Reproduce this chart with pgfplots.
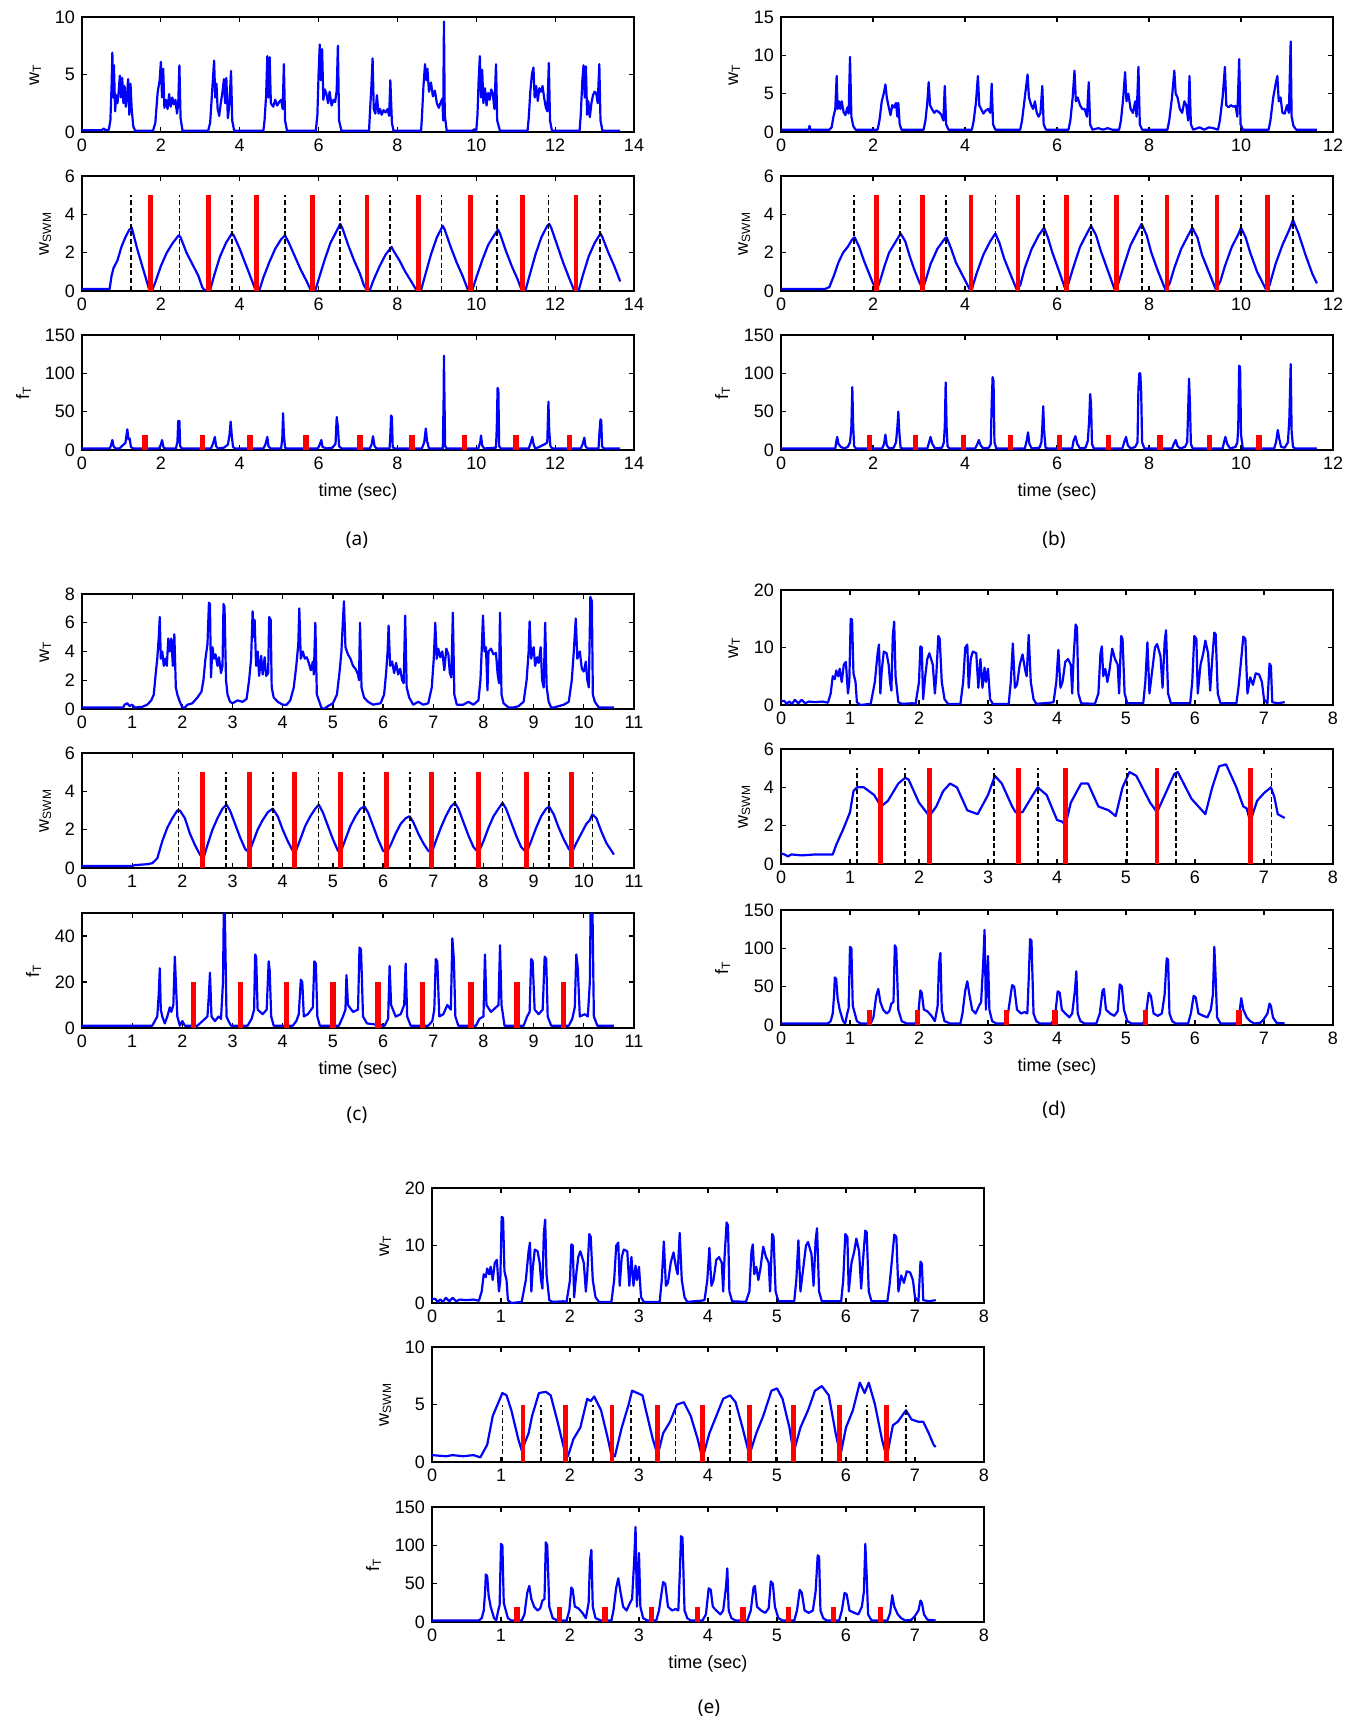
\documentclass[border=0pt]{standalone}
\usepackage{fontspec}
\setmainfont{Liberation Sans}
\newfontfamily\lblfont{Noto Sans}
\usepackage{pgfplots}
\pgfplotsset{compat=1.18}
\usepackage{pgfplotstable}

\pgfplotsset{
 mat/.style={scale only axis, width=276pt, height=57.5pt, xmin=0, ymin=0,
   tick align=inside, major tick length=2.5pt,
   axis line style={black, line width=0.6pt},
   every tick/.style={black, line width=0.6pt},
   tick label style={font=\fontsize{9}{10}\selectfont, black},
   label style={font=\fontsize{9}{10}\selectfont},
   /pgf/number format/assume math mode=true, scaled ticks=false, clip=true},
 bl/.style={blue, line width=1.1pt, line join=round, mark=none},
 rb/.style={red, line width=2.4pt, ycomb, mark=none},
 kd/.style={black, line width=0.85pt, dash pattern=on 2.5pt off 1.4pt, ycomb, mark=none},
}

\pgfplotstableread[row sep=\\]{x y\\
0 0.7\\ 0.05 0.7\\ 0.08 0.2\\ 0.12 0.6\\ 0.16 0.2\\ 0.2 0.9\\ 0.25 0.3\\ 0.3 0.9\\ 0.35 0.3\\ 0.4 0.6\\ 0.5 0.5\\ 0.6 0.6\\ 0.68 0.4\\
0.72 2.0\\ 0.75 5.0\\ 0.78 4.5\\ 0.8 6.0\\ 0.83 5.0\\ 0.85 6.3\\ 0.88 4.0\\ 0.91 7.0\\ 0.94 7.5\\ 0.97 2.0\\ 0.99 4.0\\ 1.01 15.0\\ 1.03 14.8\\ 1.05 5.5\\ 1.08 4.0\\ 1.1 0.5\\ 1.15 0.0\\
1.3 0.2\\ 1.36 4.0\\ 1.4 9.0\\ 1.42 10.5\\ 1.44 2.0\\ 1.46 6.0\\ 1.49 9.3\\ 1.53 9.0\\ 1.56 7.0\\ 1.58 4.0\\ 1.6 2.5\\ 1.62 12.0\\ 1.64 14.5\\ 1.66 5.0\\ 1.7 0.5\\ 1.75 0.2\\
1.9 0.3\\ 1.95 0.2\\ 2.0 4.0\\ 2.02 10.2\\ 2.04 10.0\\ 2.06 1.0\\ 2.09 5.0\\ 2.12 8.0\\ 2.15 9.0\\ 2.2 7.0\\ 2.23 2.0\\ 2.25 5.0\\ 2.28 12.0\\ 2.3 11.5\\ 2.33 4.0\\ 2.37 1.0\\ 2.42 0.2\\
2.6 0.2\\ 2.64 4.0\\ 2.67 10.0\\ 2.7 10.5\\ 2.72 3.0\\ 2.75 8.0\\ 2.78 9.3\\ 2.83 9.0\\ 2.86 3.0\\ 2.89 8.0\\ 2.92 3.0\\ 2.95 6.5\\ 2.97 4.0\\ 3.0 6.3\\ 3.03 1.0\\ 3.07 0.2\\
3.3 0.2\\ 3.33 4.0\\ 3.36 10.7\\ 3.39 3.0\\ 3.42 3.5\\ 3.46 7.0\\ 3.5 8.8\\ 3.54 6.0\\ 3.56 5.0\\ 3.59 12.2\\ 3.62 4.0\\ 3.66 1.0\\ 3.7 0.2\\
3.9 0.4\\ 3.95 0.5\\ 3.99 4.0\\ 4.02 9.6\\ 4.05 3.0\\ 4.08 4.0\\ 4.12 7.5\\ 4.16 8.0\\ 4.2 7.0\\ 4.22 2.0\\ 4.24 8.0\\ 4.27 14.0\\ 4.29 13.5\\ 4.31 2.0\\ 4.35 0.3\\
4.55 0.2\\ 4.6 2.0\\ 4.63 9.0\\ 4.65 10.2\\ 4.67 5.0\\ 4.7 6.3\\ 4.73 4.0\\ 4.76 6.0\\ 4.8 9.8\\ 4.84 8.0\\ 4.88 7.0\\ 4.9 2.0\\ 4.93 12.0\\ 4.95 11.5\\ 4.98 2.0\\ 5.02 0.3\\
5.25 0.3\\ 5.28 4.0\\ 5.31 10.9\\ 5.34 2.0\\ 5.37 5.0\\ 5.42 10.0\\ 5.45 10.6\\ 5.5 8.5\\ 5.53 3.0\\ 5.56 11.0\\ 5.58 13.0\\ 5.61 2.0\\ 5.65 0.3\\
5.93 0.3\\ 5.96 4.0\\ 5.99 12.0\\ 6.02 11.5\\ 6.04 2.0\\ 6.08 7.0\\ 6.12 9.0\\ 6.15 11.2\\ 6.19 9.0\\ 6.22 2.5\\ 6.25 8.0\\ 6.28 12.6\\ 6.3 12.3\\ 6.33 2.0\\ 6.37 0.3\\
6.6 0.3\\ 6.63 3.0\\ 6.67 8.0\\ 6.7 11.9\\ 6.73 11.5\\ 6.76 2.0\\ 6.8 4.8\\ 6.84 3.5\\ 6.88 5.5\\ 6.93 5.3\\ 6.97 4.0\\ 7.0 1.0\\ 7.05 0.3\\ 7.08 7.2\\ 7.1 6.8\\ 7.12 0.5\\ 7.2 0.3\\ 7.3 0.5\\
}\dtop

\pgfplotstableread[row sep=\\]{x y\\
0 2\\ 0.68 2\\ 0.72 5\\ 0.75 15\\ 0.77 40\\ 0.78 62\\ 0.8 60\\ 0.82 35\\ 0.85 20\\ 0.9 5\\ 0.93 2\\ 0.96 15\\ 0.98 22\\ 1.0 102\\ 1.02 100\\ 1.04 25\\ 1.07 15\\ 1.1 5\\ 1.15 2\\
1.3 2\\ 1.34 10\\ 1.38 38\\ 1.41 47\\ 1.44 30\\ 1.48 20\\ 1.53 15\\ 1.57 18\\ 1.6 28\\ 1.63 30\\ 1.65 104\\ 1.67 100\\ 1.7 20\\ 1.75 5\\ 1.82 2\\
1.95 2\\ 1.99 15\\ 2.02 45\\ 2.04 42\\ 2.07 20\\ 2.12 18\\ 2.18 12\\ 2.23 5\\ 2.27 25\\ 2.29 80\\ 2.31 94\\ 2.33 20\\ 2.37 5\\ 2.45 2\\
2.6 2\\ 2.63 15\\ 2.67 45\\ 2.7 57\\ 2.73 40\\ 2.77 20\\ 2.82 15\\ 2.87 25\\ 2.9 30\\ 2.93 80\\ 2.95 124\\ 2.97 20\\ 3.0 90\\ 3.02 20\\ 3.06 5\\ 3.12 2\\
3.25 2\\ 3.29 15\\ 3.33 40\\ 3.35 52\\ 3.38 50\\ 3.42 20\\ 3.48 15\\ 3.53 17\\ 3.57 15\\ 3.59 60\\ 3.61 112\\ 3.63 110\\ 3.66 15\\ 3.7 5\\ 3.75 2\\
3.92 2\\ 3.97 10\\ 4.01 44\\ 4.04 42\\ 4.07 20\\ 4.12 15\\ 4.18 10\\ 4.22 15\\ 4.26 45\\ 4.28 70\\ 4.3 15\\ 4.34 5\\ 4.4 2\\
4.57 2\\ 4.62 15\\ 4.66 45\\ 4.68 47\\ 4.71 20\\ 4.77 15\\ 4.83 12\\ 4.88 18\\ 4.91 53\\ 4.94 50\\ 4.97 20\\ 5.02 5\\ 5.08 2\\
5.25 2\\ 5.29 15\\ 5.33 42\\ 5.36 38\\ 5.4 15\\ 5.46 12\\ 5.52 15\\ 5.56 40\\ 5.59 87\\ 5.61 85\\ 5.63 15\\ 5.67 5\\ 5.72 2\\
5.9 2\\ 5.94 15\\ 5.98 38\\ 6.01 36\\ 6.05 15\\ 6.12 12\\ 6.18 10\\ 6.23 20\\ 6.26 40\\ 6.28 102\\ 6.3 60\\ 6.32 10\\ 6.37 2\\
6.6 2\\ 6.64 12\\ 6.67 35\\ 6.7 20\\ 6.75 10\\ 6.8 5\\ 6.86 2\\ 6.95 3\\ 7.0 8\\ 7.05 15\\ 7.08 28\\ 7.1 25\\ 7.13 10\\ 7.18 3\\ 7.3 2\\
}\dbot

\begin{document}
\begin{tikzpicture}
\path[use as bounding box] (0,0) rectangle (676pt,-861pt);

% ================= (a) =================
\begin{axis}[mat, at={(41pt,-8.5pt)}, anchor=north west, xmax=14, ymax=10,
  xtick={0,2,...,14}, ytick={0,5,10}, ylabel={w\textsubscript{T}}]
\addplot[bl] coordinates {(0,0.15) (0.5,0.15) (0.55,0.3) (0.6,0.15) (0.68,0.2)
(0.72,1.0) (0.75,4) (0.77,6.9) (0.79,3) (0.81,5.8) (0.84,1.8) (0.87,3.2) (0.9,2.5) (0.93,3.5) (0.96,4.9) (0.99,3) (1.02,4.7) (1.05,2.5) (1.08,4.0) (1.11,2.2) (1.14,3.0) (1.17,4.6) (1.2,1.5) (1.23,4.2) (1.26,2.0) (1.3,0.5) (1.35,0.1)
(1.8,0.1) (1.86,0.8) (1.92,3.5) (1.97,4.5) (2.0,6.1) (2.03,3.0) (2.06,5.5) (2.09,2.1) (2.13,2.8) (2.17,2.0) (2.21,3.3) (2.25,2.2) (2.29,3.0) (2.33,2.4) (2.37,2.8) (2.41,1.6) (2.44,2.4) (2.47,5.8) (2.5,1.2) (2.55,0.1)
(3.2,0.1) (3.25,0.8) (3.3,3.5) (3.35,6.2) (3.38,3.0) (3.41,4.2) (3.44,2.0) (3.48,1.4) (3.52,2.5) (3.56,3.4) (3.6,4.6) (3.63,2.5) (3.66,4.7) (3.7,1.2) (3.74,2.5) (3.78,5.3) (3.81,1.0) (3.86,0.1)
(4.6,0.1) (4.63,1.0) (4.67,3.2) (4.7,6.6) (4.73,3.0) (4.76,6.5) (4.79,2.5) (4.85,2.2) (4.9,2.8) (4.95,2.3) (5.0,2.6) (5.05,2.8) (5.09,2.0) (5.12,5.9) (5.15,1.0) (5.2,0.1)
(5.93,0.1) (5.97,1.5) (6.0,5.0) (6.03,7.6) (6.06,4.5) (6.09,7.2) (6.12,2.8) (6.16,3.7) (6.2,3.3) (6.24,2.5) (6.28,3.5) (6.33,2.3) (6.38,2.8) (6.42,2.6) (6.46,3.6) (6.49,7.5) (6.52,1.0) (6.58,0.1)
(7.28,0.1) (7.3,1.5) (7.34,4.0) (7.37,6.4) (7.4,2.0) (7.44,1.6) (7.48,3.2) (7.52,1.6) (7.56,2.0) (7.6,1.5) (7.65,1.9) (7.7,1.7) (7.75,2.0) (7.79,1.4) (7.82,4.5) (7.86,0.8) (7.9,0.1)
(8.6,0.1) (8.62,1.2) (8.66,4.0) (8.7,5.9) (8.73,4.5) (8.76,5.5) (8.8,3.5) (8.85,4.3) (8.9,3.1) (8.95,3.6) (9.0,2.5) (9.05,2.1) (9.1,2.6) (9.14,2.9) (9.16,1.0) (9.18,9.6) (9.2,1.5) (9.25,0.1)
(9.9,0.1) (9.95,0.25) (10.0,0.1) (10.03,1.5) (10.06,4.5) (10.09,6.6) (10.12,3.0) (10.15,5.4) (10.18,2.5) (10.22,3.8) (10.26,2.3) (10.3,3.4) (10.34,2.8) (10.38,3.7) (10.42,3.3) (10.46,2.0) (10.5,5.9) (10.53,1.0) (10.6,0.1)
(11.3,0.1) (11.33,1.2) (11.37,3.5) (11.41,5.0) (11.45,5.6) (11.48,3.0) (11.52,4.0) (11.56,2.7) (11.6,3.8) (11.64,3.5) (11.68,4.0) (11.72,3.0) (11.76,2.2) (11.8,1.8) (11.84,6.0) (11.87,1.0) (11.92,0.1)
(12.62,0.1) (12.65,1.5) (12.69,4.5) (12.72,5.8) (12.75,3.0) (12.78,5.7) (12.81,1.5) (12.84,2.7) (12.88,1.3) (12.92,2.5) (12.96,3.2) (13.0,3.5) (13.04,3.4) (13.08,2.5) (13.12,5.9) (13.15,1.0) (13.2,0.1) (13.65,0.1)};
\end{axis}

\begin{axis}[mat, at={(41pt,-88pt)}, anchor=north west, xmax=14, ymax=6,
  xtick={0,2,...,14}, ytick={0,2,4,6}, ylabel={w\textsubscript{SWM}}]
\addplot[bl] coordinates {(0,0.1) (0.7,0.1) (0.75,0.8) (0.8,1.2) (0.9,1.6) (1.0,2.3) (1.1,2.8) (1.2,3.2) (1.26,3.3) (1.3,3.0) (1.4,2.2) (1.5,1.5) (1.6,0.8) (1.7,0.1) (1.78,0.05) (1.85,0.4) (2.0,1.3) (2.15,2.0) (2.3,2.5) (2.45,2.9) (2.5,2.8) (2.65,2.0) (2.8,1.4) (2.95,0.8) (3.05,0.2) (3.1,0.05) (3.25,0.05) (3.35,0.8) (3.5,1.8) (3.65,2.5) (3.8,3.0) (3.85,2.9) (4.0,2.2) (4.15,1.4) (4.3,0.6) (4.4,0.05) (4.5,0.05) (4.6,0.7) (4.75,1.5) (4.9,2.2) (5.05,2.7) (5.15,2.9) (5.25,2.5) (5.4,1.8) (5.55,1.1) (5.7,0.5) (5.8,0.05) (5.92,0.05) (6.0,0.6) (6.15,1.6) (6.3,2.5) (6.45,3.1) (6.55,3.5) (6.6,3.3) (6.75,2.4) (6.9,1.6) (7.05,0.9) (7.15,0.3) (7.22,0.05) (7.3,0.05) (7.4,0.6) (7.55,1.3) (7.7,1.9) (7.85,2.3) (7.9,2.1) (8.05,1.6) (8.2,1.0) (8.35,0.5) (8.48,0.05) (8.6,0.05) (8.7,0.8) (8.85,1.9) (9.0,2.8) (9.15,3.4) (9.2,3.2) (9.35,2.3) (9.5,1.5) (9.65,0.8) (9.78,0.1) (9.9,0.05) (10.0,0.7) (10.15,1.6) (10.3,2.4) (10.45,2.9) (10.55,3.2) (10.6,3.0) (10.75,2.1) (10.9,1.3) (11.05,0.6) (11.15,0.05) (11.25,0.05) (11.35,0.8) (11.5,1.9) (11.65,2.8) (11.8,3.4) (11.85,3.5) (11.9,3.3) (12.05,2.4) (12.2,1.5) (12.35,0.7) (12.48,0.05) (12.6,0.05) (12.7,0.8) (12.85,1.8) (13.0,2.5) (13.15,3.0) (13.2,2.8) (13.35,2.0) (13.5,1.3) (13.65,0.5)};
\addplot[kd] coordinates {(1.24,5) (2.47,5) (3.81,5) (5.14,5) (6.54,5) (7.82,5) (9.12,5) (10.53,5) (11.83,5) (13.14,5)};
\addplot[rb] coordinates {(1.74,5) (3.20,5) (4.43,5) (5.84,5) (7.23,5) (8.54,5) (9.85,5) (11.17,5) (12.53,5)};
\end{axis}

\begin{axis}[mat, at={(41pt,-167.5pt)}, anchor=north west, xmax=14, ymax=150,
  xtick={0,2,...,14}, ytick={0,50,100,150}, ylabel={f\textsubscript{T}}, xlabel={time (sec)}]
\addplot[bl] coordinates {(0,2) (0.7,2) (0.73,5) (0.77,13) (0.8,5) (0.85,2) (0.95,2) (1.03,6) (1.1,9) (1.15,27) (1.18,14) (1.21,15) (1.24,4) (1.3,2) (1.95,2) (2.0,7) (2.03,13) (2.07,3) (2.12,2) (2.38,2) (2.42,10) (2.44,38) (2.47,38) (2.49,5) (2.53,2) (3.27,2) (3.32,8) (3.37,17) (3.4,5) (3.45,2) (3.6,3) (3.7,7) (3.74,19) (3.77,37) (3.8,18) (3.83,4) (3.88,2) (4.6,2) (4.65,7) (4.7,17) (4.73,5) (4.78,2) (5.05,2) (5.08,15) (5.1,48) (5.12,20) (5.15,3) (5.2,2) (5.98,2) (6.03,7) (6.07,13) (6.1,4) (6.2,2) (6.35,3) (6.43,8) (6.46,43) (6.49,30) (6.52,5) (6.58,2) (7.3,2) (7.35,8) (7.38,18) (7.42,5) (7.47,2) (7.8,2) (7.82,20) (7.84,45) (7.86,43) (7.88,4) (7.92,2) (8.62,2) (8.68,10) (8.72,28) (8.75,12) (8.8,2) (9.15,2) (9.17,60) (9.18,123) (9.19,80) (9.21,5) (9.25,2) (10.05,2) (10.1,10) (10.12,19) (10.15,6) (10.2,2) (10.5,3) (10.52,30) (10.54,81) (10.56,78) (10.58,5) (10.62,2) (11.33,2) (11.38,9) (11.42,17) (11.46,6) (11.5,2) (11.6,4) (11.75,8) (11.8,10) (11.83,63) (11.85,25) (11.88,5) (11.93,2) (12.65,2) (12.7,8) (12.74,16) (12.77,5) (12.82,2) (13.1,2) (13.12,20) (13.15,40) (13.17,38) (13.19,5) (13.23,2) (13.65,2)};
\addplot[rb, line width=2.7pt] coordinates {(1.60,20) (3.05,20) (4.26,20) (5.68,20) (7.05,20) (8.37,20) (9.70,20) (11.01,20) (12.37,20)};
\end{axis}

% ================= (b) =================
\begin{axis}[mat, at={(390.5pt,-8.5pt)}, anchor=north west, xmax=12, ymax=15,
  xtick={0,2,...,12}, ytick={0,5,10,15}, ylabel={w\textsubscript{T}}]
\addplot[bl] coordinates {(0,0.3) (0.6,0.3) (0.62,0.8) (0.64,0.3) (1.05,0.3) (1.1,0.6) (1.14,2.0) (1.18,3.0) (1.21,7.3) (1.23,3.0) (1.26,4.0) (1.29,3.0) (1.32,4.0) (1.36,2.6) (1.4,2.2) (1.44,3.2) (1.47,2.4) (1.5,9.8) (1.53,2.0) (1.57,0.8) (1.62,0.3)
(2.1,0.3) (2.14,1.5) (2.19,4.0) (2.24,5.2) (2.27,6.2) (2.3,4.5) (2.34,3.3) (2.38,2.2) (2.42,3.5) (2.46,3.2) (2.5,3.8) (2.53,2.0) (2.55,3.8) (2.58,1.0) (2.62,0.3)
(3.1,0.3) (3.14,1.5) (3.18,3.8) (3.21,6.5) (3.24,3.5) (3.28,3.0) (3.33,2.5) (3.38,2.8) (3.43,2.6) (3.48,2.3) (3.53,1.5) (3.56,6.0) (3.59,1.0) (3.64,0.3)
(4.15,0.3) (4.19,1.5) (4.24,4.0) (4.28,7.3) (4.31,3.5) (4.35,3.0) (4.4,2.4) (4.45,2.8) (4.5,3.0) (4.55,2.5) (4.58,6.3) (4.61,1.0) (4.66,0.3)
(5.2,0.3) (5.24,1.5) (5.29,4.0) (5.33,6.0) (5.36,7.5) (5.39,4.5) (5.44,3.5) (5.48,3.0) (5.52,4.0) (5.56,2.5) (5.6,2.0) (5.64,2.5) (5.68,6.0) (5.71,1.0) (5.76,0.3)
(6.25,0.3) (6.29,1.5) (6.34,4.5) (6.38,8.0) (6.41,4.0) (6.45,4.5) (6.5,3.5) (6.55,3.0) (6.6,3.0) (6.65,2.0) (6.69,6.5) (6.72,1.0) (6.77,0.3) (6.9,0.5) (7.0,0.3) (7.1,0.5) (7.2,0.3)
(7.35,0.3) (7.39,1.5) (7.44,4.5) (7.48,7.8) (7.51,4.0) (7.55,5.0) (7.6,3.0) (7.65,2.5) (7.7,4.0) (7.73,2.0) (7.77,8.5) (7.8,1.0) (7.85,0.3)
(8.4,0.3) (8.44,1.5) (8.5,4.5) (8.55,8.0) (8.58,5.0) (8.62,4.5) (8.67,3.0) (8.72,2.5) (8.77,4.0) (8.81,3.5) (8.85,1.5) (8.88,7.3) (8.91,1.0) (8.96,0.3) (9.1,0.6) (9.2,0.3) (9.3,0.6) (9.4,0.5)
(9.5,0.3) (9.54,1.5) (9.6,4.5) (9.65,8.5) (9.68,3.5) (9.73,3.2) (9.78,3.5) (9.83,3.3) (9.88,3.4) (9.92,2.0) (9.96,9.5) (9.99,1.0) (10.04,0.3)
(10.6,0.3) (10.64,1.5) (10.7,4.5) (10.76,6.5) (10.79,7.3) (10.82,4.0) (10.86,4.5) (10.9,2.5) (10.95,2.4) (11.0,3.5) (11.04,2.5) (11.08,11.8) (11.1,2.0) (11.14,0.8) (11.2,0.3) (11.65,0.3)};
\end{axis}

\begin{axis}[mat, at={(390.5pt,-88pt)}, anchor=north west, xmax=12, ymax=6,
  xtick={0,2,...,12}, ytick={0,2,4,6}, ylabel={w\textsubscript{SWM}}]
\addplot[bl] coordinates {(0,0.1) (0.95,0.1) (1.05,0.2) (1.15,0.8) (1.25,1.5) (1.35,2.0) (1.45,2.3) (1.55,2.7) (1.6,2.8) (1.7,2.3) (1.8,1.6) (1.9,1.0) (2.0,0.4) (2.08,0.05) (2.15,0.5) (2.25,1.3) (2.35,2.0) (2.5,2.6) (2.6,3.0) (2.7,2.6) (2.8,1.8) (2.9,1.1) (3.0,0.5) (3.08,0.1) (3.15,0.6) (3.25,1.4) (3.4,2.2) (3.55,2.7) (3.6,2.8) (3.7,2.2) (3.8,1.5) (3.95,0.8) (4.1,0.1) (4.15,0.1) (4.25,0.9) (4.4,1.9) (4.55,2.6) (4.66,3.0) (4.75,2.5) (4.85,1.7) (5.0,0.8) (5.12,0.1) (5.2,0.3) (5.3,1.2) (5.45,2.2) (5.6,2.9) (5.72,3.3) (5.8,2.8) (5.9,2.0) (6.05,1.0) (6.18,0.1) (6.25,0.4) (6.35,1.2) (6.5,2.3) (6.65,3.0) (6.74,3.4) (6.85,2.9) (6.95,2.1) (7.1,1.1) (7.25,0.1) (7.32,0.3) (7.45,1.3) (7.6,2.4) (7.75,3.1) (7.84,3.5) (7.95,2.9) (8.05,2.0) (8.2,1.0) (8.36,0.05) (8.45,0.4) (8.55,1.2) (8.7,2.2) (8.85,2.9) (8.94,3.3) (9.05,2.8) (9.15,1.9) (9.3,1.0) (9.45,0.1) (9.55,0.5) (9.65,1.3) (9.8,2.3) (9.95,3.0) (10.0,3.3) (10.1,2.8) (10.2,2.0) (10.35,1.0) (10.55,0.05) (10.62,0.3) (10.75,1.4) (10.9,2.4) (11.05,3.2) (11.13,3.7) (11.25,3.0) (11.4,1.9) (11.55,0.9) (11.65,0.4)};
\addplot[kd] coordinates {(1.59,5) (2.58,5) (3.58,5) (4.66,5) (5.72,5) (6.74,5) (7.84,5) (8.94,5) (10.0,5) (11.13,5)};
\addplot[rb] coordinates {(2.08,5) (3.08,5) (4.13,5) (5.15,5) (6.2,5) (7.29,5) (8.39,5) (9.48,5) (10.58,5)};
\end{axis}

\begin{axis}[mat, at={(390.5pt,-167.5pt)}, anchor=north west, xmax=12, ymax=150,
  xtick={0,2,...,12}, ytick={0,50,100,150}, ylabel={f\textsubscript{T}}, xlabel={time (sec)}]
\addplot[bl] coordinates {(0,2) (1.18,2) (1.2,10) (1.22,17) (1.25,8) (1.3,4) (1.38,2) (1.45,4) (1.5,10) (1.53,30) (1.55,82) (1.57,30) (1.59,5) (1.63,2) (2.2,2) (2.24,8) (2.27,20) (2.3,6) (2.35,2) (2.45,3) (2.5,10) (2.53,30) (2.55,50) (2.57,25) (2.6,3) (2.65,2) (3.18,2) (3.22,10) (3.25,17) (3.29,8) (3.35,2) (3.5,3) (3.54,10) (3.56,30) (3.58,88) (3.6,30) (3.62,5) (3.66,2) (4.22,2) (4.27,8) (4.3,13) (4.34,6) (4.4,2) (4.52,3) (4.56,8) (4.58,60) (4.6,95) (4.62,90) (4.64,10) (4.68,2) (5.3,2) (5.34,12) (5.37,23) (5.4,8) (5.45,2) (5.62,3) (5.66,10) (5.68,30) (5.7,57) (5.72,25) (5.75,3) (5.8,2) (6.33,2) (6.36,12) (6.4,18) (6.44,8) (6.5,2) (6.62,3) (6.67,12) (6.7,40) (6.72,73) (6.74,60) (6.76,8) (6.8,2) (7.42,2) (7.46,10) (7.5,17) (7.54,6) (7.6,2) (7.7,4) (7.75,10) (7.77,80) (7.79,100) (7.81,100) (7.83,75) (7.85,10) (7.9,2) (8.5,2) (8.54,8) (8.58,13) (8.62,5) (8.68,2) (8.78,4) (8.83,10) (8.85,50) (8.87,93) (8.89,60) (8.91,8) (8.95,2) (9.6,2) (9.63,10) (9.66,17) (9.7,8) (9.76,2) (9.88,4) (9.92,10) (9.94,30) (9.96,110) (9.98,108) (10.0,20) (10.04,2) (10.72,2) (10.76,10) (10.8,26) (10.83,15) (10.87,4) (10.95,3) (11.02,10) (11.05,40) (11.08,112) (11.1,25) (11.13,4) (11.18,2) (11.65,2)};
\addplot[rb, line width=2.7pt] coordinates {(1.93,20) (2.92,20) (3.97,20) (4.99,20) (6.05,20) (7.12,20) (8.24,20) (9.31,20) (10.39,20)};
\end{axis}

% ================= (c) =================
\begin{axis}[mat, at={(41pt,-297pt)}, anchor=north west, xmax=11, ymax=8,
  xtick={0,1,...,11}, ytick={0,2,4,6,8}, ylabel={w\textsubscript{T}}]
\addplot[bl] coordinates {(0,0.1) (0.82,0.1) (0.85,0.3) (0.9,0.4) (0.95,0.2) (1.0,0.3) (1.05,0.1) (1.2,0.15) (1.3,0.3) (1.38,0.6) (1.43,1.0) (1.47,2.5) (1.5,3.5) (1.53,5.0) (1.55,6.4) (1.57,3.5) (1.6,4.0) (1.63,3.0) (1.66,3.5) (1.69,3.0) (1.72,4.9) (1.75,4.0) (1.78,4.9) (1.81,3.0) (1.84,5.2) (1.87,1.5) (1.9,1.0) (1.95,0.5) (2.0,0.1) (2.05,0.1) (2.1,0.3) (2.2,0.4) (2.3,0.8) (2.38,1.2) (2.42,2.0) (2.46,3.5) (2.5,4.5) (2.53,7.4) (2.55,7.3) (2.57,2.2) (2.6,4.3) (2.63,3.5) (2.66,3.8) (2.7,3.0) (2.73,3.6) (2.77,2.5) (2.8,3.0) (2.82,7.3) (2.84,7.1) (2.87,2.0) (2.9,1.0) (2.95,0.5) (3.0,0.4) (3.1,0.6) (3.2,0.5) (3.28,0.7) (3.33,2.0) (3.37,3.5) (3.4,6.8) (3.42,5.0) (3.44,6.2) (3.47,3.0) (3.5,4.0) (3.53,2.3) (3.57,3.7) (3.6,2.4) (3.64,3.6) (3.67,2.3) (3.71,2.5) (3.73,6.4) (3.76,6.2) (3.78,1.5) (3.82,0.8) (3.9,0.5) (4.0,0.3) (4.08,0.3) (4.15,0.6) (4.22,1.5) (4.27,3.0) (4.31,4.5) (4.33,7.0) (4.36,3.5) (4.4,4.0) (4.44,3.5) (4.48,3.6) (4.52,3.2) (4.56,2.7) (4.6,3.3) (4.62,2.4) (4.65,6.0) (4.68,1.0) (4.72,0.6) (4.77,0.1) (4.82,0.0) (4.9,0.2) (5.0,0.4) (5.08,1.0) (5.13,2.5) (5.17,4.0) (5.2,6.2) (5.22,7.5) (5.25,4.3) (5.3,3.8) (5.35,3.5) (5.4,3.0) (5.45,2.8) (5.5,2.4) (5.52,2.0) (5.54,6.0) (5.57,1.5) (5.62,0.8) (5.7,0.5) (5.8,0.3) (5.95,0.4) (6.02,1.0) (6.06,2.5) (6.09,4.0) (6.11,5.8) (6.14,3.0) (6.18,3.3) (6.22,2.5) (6.26,3.2) (6.3,2.4) (6.34,2.8) (6.38,2.0) (6.41,1.8) (6.44,6.5) (6.47,1.5) (6.52,0.8) (6.6,0.3) (6.7,0.5) (6.8,0.3) (6.9,0.4) (6.97,1.5) (7.01,3.5) (7.04,6.0) (7.07,3.5) (7.1,4.2) (7.14,3.6) (7.18,4.0) (7.22,2.7) (7.26,4.2) (7.3,3.8) (7.33,2.5) (7.36,2.2) (7.39,6.7) (7.42,1.0) (7.47,0.3) (7.6,0.3) (7.7,0.5) (7.8,0.3) (7.9,0.6) (7.94,2.0) (7.97,4.5) (7.99,6.5) (8.02,4.0) (8.05,4.3) (8.08,1.3) (8.1,4.0) (8.15,4.2) (8.2,3.8) (8.25,3.9) (8.28,2.5) (8.31,1.8) (8.33,6.7) (8.36,1.0) (8.4,0.4) (8.5,0.1) (8.6,0.1) (8.7,0.2) (8.8,0.5) (8.86,2.0) (8.9,4.0) (8.92,6.1) (8.95,3.5) (9.0,4.3) (9.03,3.0) (9.07,3.6) (9.1,3.2) (9.14,4.3) (9.17,2.0) (9.2,1.5) (9.23,6.0) (9.26,1.5) (9.3,0.5) (9.35,0.1) (9.4,0.1) (9.5,0.2) (9.6,0.3) (9.7,0.5) (9.76,2.0) (9.8,4.0) (9.84,6.3) (9.87,3.5) (9.92,4.0) (9.96,2.8) (10.0,2.6) (10.04,3.3) (10.07,2.0) (10.1,1.5) (10.13,7.8) (10.16,7.5) (10.18,1.0) (10.22,0.5) (10.3,0.1) (10.6,0.1)};
\end{axis}

\begin{axis}[mat, at={(41pt,-376.5pt)}, anchor=north west, xmax=11, ymax=6,
  xtick={0,1,...,11}, ytick={0,2,4,6}, ylabel={w\textsubscript{SWM}}]
\addplot[bl] coordinates {(0,0.1) (1.0,0.1) (1.05,0.15) (1.3,0.2) (1.4,0.25) (1.5,0.5) (1.6,1.4) (1.7,2.1) (1.8,2.6) (1.9,3.0) (1.95,3.0) (2.05,2.6) (2.15,1.8) (2.25,1.2) (2.35,0.7) (2.42,0.5) (2.5,1.2) (2.6,2.0) (2.7,2.6) (2.8,3.1) (2.88,3.3) (2.95,3.0) (3.05,2.3) (3.15,1.6) (3.25,1.0) (3.33,0.8) (3.4,1.3) (3.5,2.0) (3.6,2.5) (3.7,2.9) (3.8,3.1) (3.9,2.7) (4.0,2.0) (4.1,1.4) (4.2,0.9) (4.25,0.8) (4.35,1.5) (4.45,2.2) (4.55,2.7) (4.65,3.1) (4.72,3.3) (4.8,2.9) (4.9,2.2) (5.0,1.5) (5.1,0.9) (5.15,0.8) (5.25,1.5) (5.35,2.2) (5.45,2.7) (5.55,3.1) (5.63,3.2) (5.7,2.9) (5.8,2.2) (5.9,1.5) (6.0,0.9) (6.07,0.8) (6.15,1.2) (6.25,1.8) (6.35,2.3) (6.45,2.6) (6.53,2.7) (6.6,2.4) (6.7,1.8) (6.8,1.3) (6.9,0.9) (6.97,0.8) (7.05,1.4) (7.15,2.1) (7.25,2.7) (7.35,3.2) (7.43,3.4) (7.5,3.1) (7.6,2.4) (7.7,1.7) (7.8,1.1) (7.9,0.8) (8.0,1.4) (8.1,2.1) (8.2,2.7) (8.3,3.1) (8.38,3.4) (8.45,3.1) (8.55,2.4) (8.65,1.7) (8.75,1.1) (8.86,0.8) (8.95,1.4) (9.05,2.1) (9.15,2.7) (9.25,3.1) (9.31,3.2) (9.4,2.8) (9.5,2.1) (9.6,1.5) (9.7,1.0) (9.76,0.8) (9.85,1.3) (9.95,1.8) (10.05,2.3) (10.12,2.5) (10.17,2.8) (10.25,2.6) (10.35,1.9) (10.45,1.3) (10.6,0.7)};
\addplot[kd] coordinates {(1.92,5) (2.87,5) (3.80,5) (4.71,5) (5.62,5) (6.53,5) (7.43,5) (8.38,5) (9.31,5) (10.17,5)};
\addplot[rb] coordinates {(2.40,5) (3.33,5) (4.24,5) (5.15,5) (6.06,5) (6.96,5) (7.90,5) (8.86,5) (9.75,5)};
\end{axis}

\begin{axis}[mat, at={(41pt,-456.5pt)}, anchor=north west, xmax=11, ymax=50,
  xtick={0,1,...,11}, ytick={0,20,40}, ylabel={f\textsubscript{T}}, xlabel={time (sec)}]
\addplot[bl] coordinates {(0,1) (1.4,1) (1.45,3) (1.5,5) (1.53,15) (1.55,26) (1.57,8) (1.6,5) (1.65,2) (1.7,5) (1.75,9) (1.78,7) (1.82,10) (1.85,31) (1.87,20) (1.9,5) (1.95,1) (2.0,3) (2.05,1) (2.3,1) (2.4,3) (2.5,5) (2.53,15) (2.55,24) (2.58,5) (2.65,3) (2.72,5) (2.77,4) (2.81,20) (2.83,60) (2.85,45) (2.88,5) (2.92,3) (2.97,1) (3.3,1) (3.38,4) (3.43,8) (3.45,32) (3.47,31) (3.5,8) (3.6,6) (3.68,8) (3.72,29) (3.74,25) (3.77,5) (3.82,1) (4.2,1) (4.27,3) (4.32,6) (4.36,21) (4.39,20) (4.42,5) (4.5,6) (4.6,9) (4.63,29) (4.66,28) (4.69,5) (4.74,1) (5.12,1) (5.2,5) (5.25,8) (5.27,23) (5.3,10) (5.4,7) (5.5,8) (5.53,35) (5.56,34) (5.6,5) (5.68,2) (6.03,1) (6.1,4) (6.13,27) (6.16,10) (6.25,5) (6.35,6) (6.42,10) (6.45,28) (6.48,5) (6.55,1) (6.9,1) (6.98,3) (7.02,8) (7.05,30) (7.08,29) (7.12,5) (7.2,6) (7.28,10) (7.35,8) (7.38,39) (7.41,30) (7.44,5) (7.5,1) (7.85,1) (7.92,4) (8.0,5) (8.03,32) (8.06,10) (8.15,7) (8.25,9) (8.3,10) (8.33,36) (8.36,10) (8.42,1) (8.8,1) (8.87,5) (8.92,7) (8.95,30) (8.98,29) (9.02,8) (9.1,6) (9.18,8) (9.22,31) (9.25,30) (9.28,5) (9.35,1) (9.7,1) (9.77,4) (9.82,9) (9.85,32) (9.88,26) (9.92,5) (10.02,6) (10.08,5) (10.12,20) (10.14,60) (10.17,55) (10.2,5) (10.27,1) (10.6,1)};
\addplot[rb, line width=2.7pt] coordinates {(2.22,20) (3.16,20) (4.07,20) (5.0,20) (5.9,20) (6.78,20) (7.75,20) (8.67,20) (9.6,20)};
\end{axis}

% ================= (d) =================
\begin{axis}[mat, at={(390.5pt,-295pt)}, anchor=north west, xmax=8, ymax=20,
  xtick={0,1,...,8}, ytick={0,10,20}, ylabel={w\textsubscript{T}}]
\addplot[bl] table {\dtop};
\end{axis}

\begin{axis}[mat, at={(390.5pt,-374.5pt)}, anchor=north west, xmax=8, ymax=6,
  xtick={0,1,...,8}, ytick={0,2,4,6}, ylabel={w\textsubscript{SWM}}]
\addplot[bl] coordinates {(0,0.55) (0.05,0.5) (0.1,0.4) (0.15,0.5) (0.3,0.45) (0.5,0.5) (0.75,0.5) (0.8,1.0) (0.9,1.8) (1.0,2.7) (1.05,3.8) (1.1,4.0) (1.2,4.0) (1.35,3.6) (1.45,3.0) (1.55,3.3) (1.7,4.2) (1.8,4.5) (1.85,4.4) (2.0,3.2) (2.15,2.5) (2.25,3.0) (2.35,3.8) (2.45,4.2) (2.55,4.0) (2.7,2.8) (2.85,2.6) (3.0,3.6) (3.1,4.6) (3.2,4.2) (3.35,3.0) (3.4,2.7) (3.5,2.7) (3.65,3.6) (3.72,4.0) (3.85,3.6) (4.0,2.3) (4.08,2.2) (4.12,2.0) (4.2,3.2) (4.35,4.2) (4.45,4.2) (4.6,3.0) (4.75,2.8) (4.85,2.5) (4.95,4.0) (5.05,4.8) (5.15,4.6) (5.35,3.2) (5.45,2.7) (5.55,3.5) (5.7,4.7) (5.75,4.8) (5.95,3.4) (6.1,2.8) (6.15,2.6) (6.25,4.0) (6.35,5.1) (6.45,5.2) (6.6,4.0) (6.7,3.0) (6.75,2.9) (6.8,2.2) (6.9,3.3) (7.0,3.7) (7.1,4.0) (7.15,3.5) (7.2,2.6) (7.3,2.4)};
\addplot[kd] coordinates {(1.10,5) (1.80,5) (3.09,5) (3.72,5) (5.01,5) (5.72,5) (7.11,5)};
\addplot[rb] coordinates {(1.44,5) (2.15,5) (3.44,5) (4.12,5) (5.45,5) (6.80,5)};
\end{axis}

\begin{axis}[mat, at={(390.5pt,-455pt)}, anchor=north west, xmax=8, ymax=150,
  xtick={0,1,...,8}, ytick={0,50,100,150}, ylabel={f\textsubscript{T}}, xlabel={time (sec)}]
\addplot[bl] table {\dbot};
\addplot[rb, line width=2.7pt] coordinates {(1.28,20) (1.98,20) (3.27,20) (3.97,20) (5.28,20) (6.64,20)};
\end{axis}

% ================= (e) =================
\begin{axis}[mat, at={(216pt,-594pt)}, anchor=north west, xmax=8, ymax=20,
  xtick={0,1,...,8}, ytick={0,10,20}, ylabel={w\textsubscript{T}}]
\addplot[bl] table {\dtop};
\end{axis}

\begin{axis}[mat, at={(216pt,-673.5pt)}, anchor=north west, xmax=8, ymax=10,
  xtick={0,1,...,8}, ytick={0,5,10}, ylabel={w\textsubscript{SWM}}]
\addplot[bl] coordinates {(0,0.6) (0.1,0.55) (0.2,0.5) (0.3,0.6) (0.45,0.5) (0.6,0.6) (0.7,0.4) (0.8,1.5) (0.88,4.0) (0.95,5.0) (1.02,6.0) (1.08,5.8) (1.15,4.5) (1.25,2.0) (1.3,1.0) (1.4,2.5) (1.45,4.0) (1.55,6.0) (1.65,6.1) (1.72,5.8) (1.82,3.5) (1.92,1.0) (1.97,0.5) (2.05,2.0) (2.15,3.0) (2.25,5.5) (2.3,5.3) (2.35,5.7) (2.45,4.5) (2.55,2.0) (2.6,0.6) (2.65,0.5) (2.75,3.0) (2.85,5.0) (2.9,6.2) (3.05,5.8) (3.12,4.0) (3.2,2.0) (3.27,0.6) (3.35,2.5) (3.45,3.5) (3.55,5.0) (3.65,5.2) (3.75,4.0) (3.85,2.0) (3.92,0.3) (4.02,2.5) (4.12,4.0) (4.22,5.5) (4.32,5.8) (4.4,5.2) (4.5,3.0) (4.6,0.6) (4.7,2.5) (4.8,4.0) (4.92,6.2) (5.0,6.4) (5.08,5.5) (5.18,3.0) (5.24,0.8) (5.34,3.0) (5.45,4.5) (5.55,6.2) (5.65,6.6) (5.75,5.8) (5.85,2.5) (5.92,0.6) (6.0,3.0) (6.1,4.5) (6.2,6.9) (6.27,6.0) (6.33,6.9) (6.42,5.0) (6.52,2.0) (6.59,0.4) (6.68,3.2) (6.75,3.5) (6.87,4.5) (6.95,3.7) (7.05,3.5) (7.12,3.5) (7.2,2.5) (7.27,1.5) (7.3,1.3)};
\addplot[kd] coordinates {(1.02,5) (1.58,5) (2.33,5) (2.88,5) (3.53,5) (4.32,5) (4.99,5) (5.65,5) (6.30,5) (6.87,5)};
\addplot[rb] coordinates {(1.32,5) (1.94,5) (2.61,5) (3.27,5) (3.92,5) (4.6,5) (5.24,5) (5.91,5) (6.59,5)};
\end{axis}

\begin{axis}[mat, at={(216pt,-753.5pt)}, anchor=north west, xmax=8, ymax=150,
  xtick={0,1,...,8}, ytick={0,50,100,150}, ylabel={f\textsubscript{T}}, xlabel={time (sec)}]
\addplot[bl] table {\dbot};
\addplot[rb, line width=2.7pt] coordinates {(1.23,20) (1.85,20) (2.51,20) (3.18,20) (3.85,20) (4.51,20) (5.17,20) (5.82,20) (6.5,20)};
\end{axis}

\node[font=\lblfont\fontsize{9.5}{11}\selectfont] at (178.5pt,-270pt) {(a)};
\node[font=\lblfont\fontsize{9.5}{11}\selectfont] at (527pt,-270pt) {(b)};
\node[font=\lblfont\fontsize{9.5}{11}\selectfont] at (178.5pt,-557.5pt) {(c)};
\node[font=\lblfont\fontsize{9.5}{11}\selectfont] at (527pt,-555pt) {(d)};
\node[font=\lblfont\fontsize{9.5}{11}\selectfont] at (354.5pt,-854pt) {(e)};
\end{tikzpicture}
\end{document}
